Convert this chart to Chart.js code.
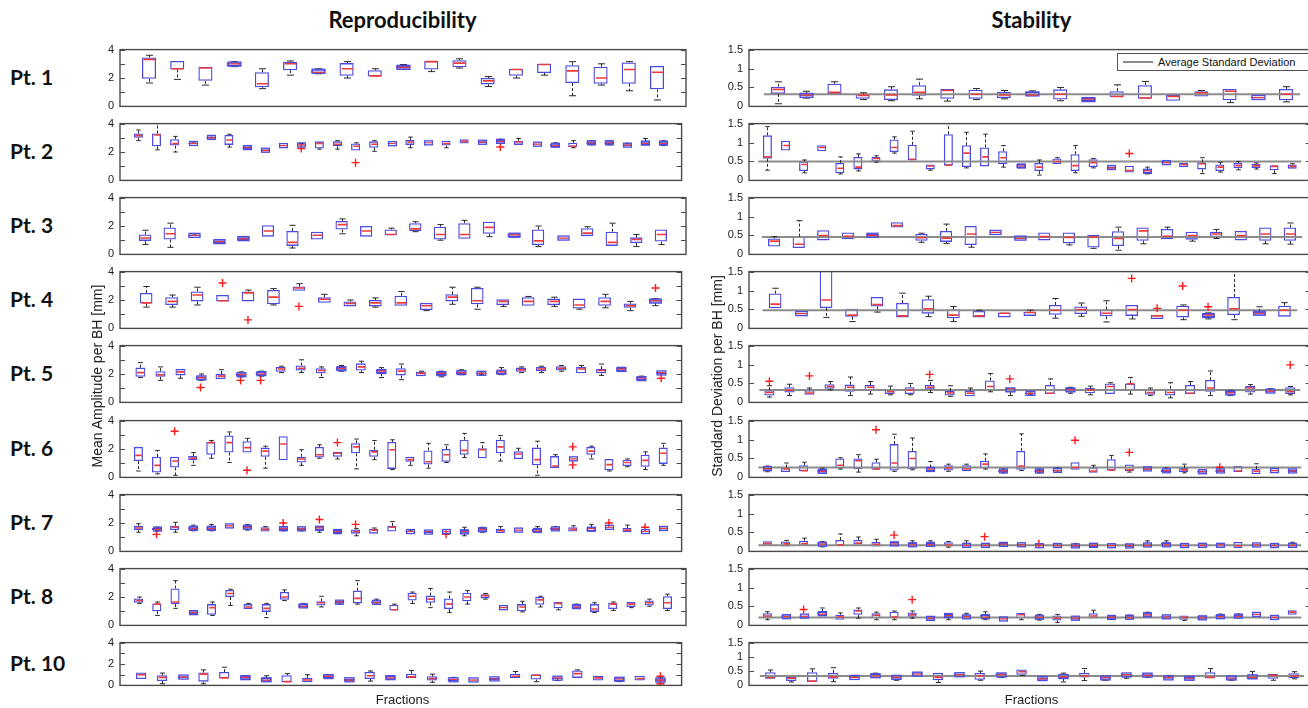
<!DOCTYPE html>
<html><head><meta charset="utf-8">
<script src="https://cdn.jsdelivr.net/npm/chart.js@4.4.0/dist/chart.umd.min.js"></script>
<style>
html,body{margin:0;padding:0;background:#fff;}
body{width:1308px;height:708px;overflow:hidden;position:relative;font-family:"Liberation Sans",Arial,sans-serif;}
canvas{position:absolute;}
.t{position:absolute;white-space:nowrap;color:#111;}
.bold{font-family:Lato,"Open Sans",sans-serif;font-weight:bold;}
</style></head><body>
<script>
// ---------------- DATA ----------------
const patients = ['Pt. 1','Pt. 2','Pt. 3','Pt. 4','Pt. 5','Pt. 6','Pt. 7','Pt. 8','Pt. 10'];
const titles = ['Reproducibility','Stability'];
const yTitles = ['Mean Amplitude per BH [mm]','Standard Deviation per BH [mm]'];
const xTitle = 'Fractions';
const legendText = 'Average Standard Deviation';
const ampTicks = [0,1,2,3,4];
const ampTickLabels = ['0','','2','','4'];
const sdTicks = [0,0.5,1,1.5];
const sdTickLabels = ['0','0.5','1','1.5'];
// each box: [lower whisker, q1, median, q3, upper whisker]
const amp1 = [[1.65,1.95,3.3,3.45,3.6],[1.9,2.6,2.65,3.2,3.2],[1.5,1.8,2.7,2.8,2.8],[2.8,2.85,3.0,3.1,3.15],[1.25,1.35,1.6,2.4,2.65],[2.2,2.55,3.0,3.15,3.2],[2.3,2.35,2.4,2.6,2.65],[2.0,2.15,2.65,3.05,3.15],[2.1,2.1,2.15,2.55,2.65],[2.6,2.65,2.75,2.85,2.95],[2.45,2.6,3.15,3.2,3.2],[2.7,2.75,3.05,3.25,3.35],[1.4,1.55,1.8,2.0,2.1],[2.0,2.15,2.6,2.65,2.65],[2.2,2.35,2.95,3.0,3.0],[0.75,1.65,2.5,2.9,3.15],[1.5,1.6,2.0,2.8,3.0],[1.1,1.6,2.6,3.1,3.15],[0.45,1.2,2.4,2.85,2.85]];
const amp2 = [[2.8,3.0,3.15,3.3,3.55],[2.15,2.4,3.2,3.3,4.0],[2.0,2.45,2.6,2.9,3.1],[2.55,2.55,2.6,2.65,2.7],[2.9,2.95,3.0,3.1,3.15],[2.35,2.5,2.85,3.2,3.25],[2.2,2.22,2.3,2.4,2.4],[2.05,2.05,2.1,2.2,2.2],[2.4,2.42,2.45,2.48,2.5],[2.45,2.45,2.5,2.55,2.6],[2.2,2.25,2.6,2.75,2.75],[2.2,2.4,2.55,2.75,2.8],[2.1,2.1,2.4,2.6,2.65],[2.05,2.3,2.55,2.75,2.8],[2.55,2.55,2.6,2.62,2.65],[2.3,2.5,2.7,2.85,3.05],[2.6,2.62,2.65,2.67,2.7],[2.3,2.45,2.6,2.8,2.8],[2.6,2.6,2.75,2.9,2.9],[2.6,2.62,2.7,2.75,2.75],[2.65,2.65,2.75,2.85,2.9],[2.5,2.5,2.7,2.8,2.95],[2.5,2.52,2.55,2.58,2.6],[2.35,2.35,2.45,2.6,2.65],[2.3,2.35,2.4,2.65,2.8],[2.5,2.55,2.65,2.75,2.8],[2.5,2.55,2.65,2.75,2.8],[2.4,2.42,2.48,2.55,2.6],[2.5,2.5,2.6,2.75,2.95],[2.45,2.5,2.6,2.75,2.8]];
const amp3 = [[0.7,0.95,1.15,1.4,1.7],[0.5,1.05,1.45,1.9,2.2],[1.25,1.28,1.35,1.4,1.45],[0.78,0.8,0.9,1.0,1.05],[1.0,1.02,1.1,1.2,1.25],[1.25,1.25,1.65,2.05,2.05],[0.45,0.6,0.85,1.65,2.05],[1.05,1.05,1.35,1.6,1.6],[1.45,1.75,2.1,2.35,2.5],[1.25,1.25,1.65,2.0,2.0],[1.35,1.35,1.4,1.75,1.85],[1.6,1.65,1.8,2.2,2.3],[1.0,1.05,1.4,1.95,2.1],[1.1,1.1,1.4,2.2,2.4],[1.25,1.45,1.9,2.3,2.3],[1.2,1.22,1.38,1.48,1.5],[0.55,0.65,0.95,1.75,2.0],[1.1,1.12,1.15,1.18,1.2],[1.3,1.3,1.5,1.85,1.95],[0.6,0.6,0.85,1.6,2.2],[0.55,0.8,1.05,1.2,1.4],[0.7,0.9,1.4,1.75,1.75]];
const amp4 = [[1.5,1.75,1.8,2.5,2.95],[1.5,1.65,1.9,2.2,2.35],[1.65,1.9,2.35,2.6,2.9],[1.9,1.9,1.95,2.35,2.35],[1.9,1.9,2.5,2.6,2.7],[1.65,1.7,2.2,2.7,2.8],[2.65,2.65,2.85,2.95,3.15],[1.8,1.8,2.05,2.2,2.4],[1.55,1.55,1.75,1.9,2.0],[1.5,1.55,1.8,2.0,2.15],[1.6,1.6,1.8,2.3,2.6],[1.25,1.3,1.6,1.8,1.8],[1.7,1.9,2.2,2.4,2.9],[1.35,1.7,1.95,2.85,2.9],[1.55,1.65,1.9,2.05,2.05],[1.6,1.6,1.9,2.2,2.25],[1.55,1.65,1.9,2.1,2.2],[1.35,1.4,1.65,2.1,2.1],[1.45,1.6,1.9,2.2,2.4],[1.25,1.45,1.6,1.75,1.9],[1.6,1.8,1.95,2.05,2.1]];
const amp5 = [[1.75,1.8,2.1,2.45,2.8],[1.55,1.8,1.95,2.2,2.5],[1.7,1.9,2.15,2.35,2.35],[1.55,1.6,1.75,1.85,2.0],[1.65,1.65,1.85,2.0,2.3],[1.8,1.85,1.95,2.05,2.15],[1.85,1.9,2.0,2.15,2.2],[2.1,2.15,2.35,2.5,2.55],[2.1,2.25,2.4,2.6,3.0],[1.75,2.05,2.25,2.4,2.5],[2.2,2.25,2.4,2.5,2.6],[2.1,2.25,2.5,2.75,2.9],[1.75,2.05,2.2,2.3,2.45],[1.6,1.9,2.2,2.4,2.7],[1.85,1.85,2.05,2.15,2.2],[1.8,1.9,2.05,2.15,2.2],[1.95,2.0,2.1,2.2,2.3],[1.95,2.0,2.05,2.1,2.15],[1.95,2.0,2.15,2.25,2.45],[2.1,2.15,2.3,2.45,2.5],[2.1,2.2,2.35,2.5,2.55],[2.2,2.25,2.4,2.55,2.6],[2.05,2.05,2.35,2.5,2.6],[1.9,2.05,2.25,2.35,2.7],[2.2,2.2,2.35,2.45,2.45],[1.55,1.55,1.7,1.8,1.85],[2.0,2.0,2.1,2.15,2.15]];
const amp6 = [[0.45,1.15,1.55,2.15,2.15],[0.25,0.35,0.85,1.45,1.9],[0.15,0.7,1.15,1.45,1.45],[0.85,1.2,1.35,1.5,1.75],[1.35,1.6,2.45,2.5,2.6],[1.05,1.75,2.45,2.95,3.2],[1.75,1.75,2.1,2.55,2.75],[0.65,1.45,1.85,2.1,2.2],[1.2,1.2,2.35,2.9,2.9],[0.85,1.05,1.3,1.45,1.95],[1.35,1.4,1.6,2.15,2.3],[1.3,1.45,1.7,1.8,1.8],[0.6,1.7,2.15,2.4,2.7],[1.25,1.45,1.8,1.95,2.6],[0.55,0.6,1.95,2.5,2.65],[0.85,1.1,1.25,1.45,1.45],[0.65,0.9,1.1,1.9,2.4],[1.05,1.1,1.6,2.0,2.3],[1.4,1.6,1.9,2.65,3.1],[1.35,1.35,1.95,2.05,2.45],[1.15,1.7,2.15,2.65,2.95],[1.3,1.3,1.65,1.85,2.05],[0.15,0.85,1.25,2.1,2.55],[0.65,0.65,0.8,1.5,1.6],[1.3,1.3,1.3,1.32,1.32],[1.3,1.6,1.85,2.15,2.2],[0.45,0.5,0.9,1.3,1.3],[0.75,0.8,1.05,1.25,1.3],[0.55,0.75,1.2,1.6,1.8],[0.85,0.95,1.7,2.1,2.4]];
const amp7 = [[1.35,1.5,1.65,1.8,1.95],[1.45,1.5,1.55,1.65,1.7],[1.35,1.5,1.7,1.8,2.05],[1.45,1.5,1.6,1.75,1.85],[1.45,1.5,1.6,1.75,1.9],[1.75,1.77,1.8,1.82,1.85],[1.5,1.6,1.7,1.8,1.9],[1.4,1.4,1.55,1.7,1.75],[1.45,1.5,1.6,1.7,1.75],[1.45,1.5,1.58,1.68,1.7],[1.35,1.5,1.65,1.75,1.75],[1.25,1.3,1.4,1.5,1.5],[1.1,1.25,1.4,1.55,1.6],[1.25,1.25,1.5,1.6,1.65],[1.4,1.4,1.7,1.8,2.1],[1.35,1.35,1.4,1.45,1.5],[1.3,1.3,1.4,1.42,1.45],[1.35,1.37,1.4,1.43,1.45],[1.1,1.25,1.4,1.5,1.7],[1.35,1.4,1.55,1.65,1.7],[1.3,1.3,1.45,1.6,1.75],[1.45,1.47,1.5,1.53,1.55],[1.35,1.35,1.45,1.6,1.75],[1.5,1.5,1.58,1.68,1.75],[1.4,1.4,1.55,1.7,1.8],[1.4,1.42,1.6,1.7,1.9],[1.65,1.67,1.7,1.72,1.75],[1.35,1.35,1.5,1.65,1.85],[1.35,1.37,1.4,1.43,1.45],[1.55,1.55,1.62,1.68,1.7]];
const amp8 = [[1.55,1.6,1.75,1.9,2.0],[0.7,1.0,1.5,1.55,1.65],[1.2,1.5,1.65,2.6,3.15],[0.8,0.8,0.9,1.0,1.05],[0.7,0.75,1.25,1.5,1.65],[1.4,2.0,2.25,2.5,2.55],[1.15,1.15,1.3,1.5,1.55],[0.55,0.95,1.2,1.5,1.55],[1.75,1.8,2.0,2.35,2.5],[1.25,1.25,1.35,1.5,1.55],[1.3,1.4,1.6,1.7,2.05],[1.5,1.55,1.65,1.72,1.75],[1.5,1.55,1.9,2.45,3.15],[1.5,1.55,1.6,1.7,1.85],[1.05,1.05,1.1,1.45,1.5],[1.55,1.75,2.05,2.3,2.35],[1.25,1.6,1.85,2.1,2.6],[0.9,1.15,1.5,1.9,2.35],[1.5,1.7,2.0,2.3,2.45],[1.85,1.9,2.1,2.2,2.25],[1.22,1.23,1.25,1.27,1.28],[0.95,1.0,1.3,1.5,1.7],[1.3,1.45,1.8,2.0,2.05],[1.1,1.2,1.55,1.65,1.65],[1.2,1.2,1.3,1.45,1.5],[0.9,0.95,1.15,1.5,1.6],[1.05,1.15,1.5,1.6,1.65],[1.25,1.3,1.5,1.65,1.65],[1.35,1.4,1.6,1.75,1.85],[1.05,1.15,1.6,2.05,2.2]];
const amp10 = [[0.6,0.6,1.0,1.2,1.2],[0.15,0.4,0.75,0.95,1.15],[0.7,0.7,0.78,0.85,0.85],[0.15,0.35,1.05,1.2,1.45],[0.65,0.65,0.7,1.25,1.7],[0.55,0.55,0.75,0.9,0.9],[0.35,0.35,0.5,0.7,0.9],[0.3,0.3,0.35,0.95,1.1],[0.3,0.3,0.5,0.7,1.0],[0.7,0.7,0.85,0.95,1.0],[0.4,0.4,0.5,0.65,0.65],[0.4,0.6,0.9,1.25,1.35],[0.55,0.55,0.7,0.9,0.9],[0.7,0.7,0.8,1.1,1.4],[0.3,0.45,0.65,0.85,1.05],[0.4,0.4,0.55,0.65,0.75],[0.45,0.47,0.5,0.55,0.58],[0.5,0.5,0.62,0.72,0.75],[0.7,0.7,0.85,1.1,1.3],[0.35,0.55,0.95,1.05,1.05],[0.45,0.6,0.7,0.75,0.75],[0.7,0.7,1.1,1.4,1.45],[0.45,0.45,0.7,0.9,0.9],[0.35,0.4,0.6,0.75,0.75],[0.45,0.45,0.65,0.9,0.9],[0.35,0.35,0.5,0.65,0.7]];
// outliers: [fraction index (1-based), value]
const ampOut1 = [];
const ampOut2 = [[10,2.25],[13,1.25],[21,2.35]];
const ampOut3 = [];
const ampOut4 = [[4,3.2],[5,0.6],[7,1.55],[21,2.85]];
const ampOut5 = [[4,1.05],[6,1.55],[7,1.55],[27,1.7]];
const ampOut6 = [[3,3.25],[7,0.5],[12,2.45],[25,2.15],[25,0.88]];
const ampOut7 = [[2,1.2],[9,2.0],[11,2.25],[13,1.9],[18,1.2],[27,2.0],[29,1.7]];
const ampOut8 = [];
const ampOut10 = [[26,0.85],[26,0.15]];

const sd1 = [[0.07,0.33,0.45,0.52,0.65],[0.22,0.26,0.3,0.32,0.4],[0.33,0.33,0.37,0.6,0.65],[0.18,0.2,0.29,0.33,0.36],[0.15,0.17,0.3,0.45,0.52],[0.2,0.28,0.37,0.56,0.72],[0.14,0.2,0.42,0.46,0.47],[0.18,0.2,0.32,0.44,0.47],[0.2,0.22,0.3,0.38,0.42],[0.28,0.28,0.3,0.38,0.41],[0.15,0.18,0.32,0.45,0.5],[0.13,0.14,0.19,0.22,0.23],[0.25,0.25,0.26,0.4,0.57],[0.2,0.2,0.22,0.56,0.66],[0.15,0.15,0.26,0.3,0.3],[0.25,0.26,0.36,0.4,0.42],[0.1,0.16,0.4,0.46,0.47],[0.21,0.22,0.23,0.25,0.26],[0.12,0.16,0.32,0.46,0.52]];
const sd2 = [[0.27,0.57,0.62,1.19,1.42],[0.78,0.79,0.92,1.05,1.05],[0.2,0.25,0.42,0.5,0.54],[0.77,0.77,0.87,0.93,0.93],[0.17,0.19,0.32,0.46,0.62],[0.25,0.29,0.35,0.62,0.7],[0.48,0.5,0.58,0.62,0.65],[0.72,0.75,0.87,1.08,1.15],[0.54,0.54,0.55,0.94,1.3],[0.27,0.29,0.38,0.42,0.42],[0.39,0.39,0.4,1.22,1.5],[0.33,0.35,0.72,0.93,1.27],[0.37,0.37,0.62,0.87,1.22],[0.35,0.43,0.6,0.77,0.92],[0.33,0.33,0.38,0.43,0.43],[0.14,0.25,0.35,0.46,0.54],[0.43,0.43,0.5,0.58,0.6],[0.2,0.25,0.39,0.69,0.92],[0.33,0.35,0.47,0.56,0.58],[0.3,0.31,0.33,0.37,0.38],[0.21,0.21,0.26,0.39,0.39],[0.17,0.19,0.25,0.29,0.35],[0.44,0.45,0.47,0.49,0.5],[0.35,0.35,0.42,0.46,0.46],[0.18,0.29,0.44,0.48,0.6],[0.22,0.25,0.35,0.42,0.48],[0.28,0.32,0.39,0.46,0.5],[0.3,0.33,0.39,0.44,0.46],[0.18,0.27,0.37,0.4,0.4],[0.3,0.31,0.37,0.42,0.44]];
const sd3 = [[0.2,0.21,0.35,0.42,0.47],[0.16,0.17,0.27,0.47,0.89],[0.37,0.37,0.5,0.64,0.64],[0.4,0.4,0.48,0.58,0.58],[0.47,0.47,0.5,0.54,0.54],[0.7,0.71,0.76,0.85,0.85],[0.32,0.36,0.44,0.54,0.56],[0.29,0.33,0.43,0.62,0.8],[0.19,0.25,0.54,0.75,0.75],[0.56,0.57,0.58,0.59,0.6],[0.4,0.4,0.42,0.46,0.47],[0.37,0.37,0.47,0.58,0.58],[0.25,0.29,0.45,0.58,0.58],[0.16,0.18,0.46,0.52,0.52],[0.11,0.22,0.42,0.61,0.72],[0.28,0.36,0.62,0.71,0.71],[0.4,0.4,0.48,0.67,0.72],[0.35,0.39,0.5,0.6,0.6],[0.42,0.46,0.54,0.6,0.66],[0.37,0.37,0.5,0.62,0.62],[0.28,0.36,0.54,0.71,0.72],[0.27,0.36,0.54,0.71,0.83]];
const sd4 = [[0.52,0.53,0.64,0.92,1.06],[0.37,0.38,0.39,0.4,0.41],[0.29,0.54,0.75,1.55,1.6],[0.18,0.31,0.35,0.52,0.52],[0.43,0.58,0.63,0.83,0.83],[0.29,0.29,0.33,0.67,0.93],[0.31,0.39,0.52,0.77,0.85],[0.18,0.27,0.35,0.5,0.58],[0.28,0.29,0.33,0.46,0.48],[0.29,0.29,0.4,0.42,0.42],[0.33,0.33,0.42,0.44,0.48],[0.27,0.36,0.48,0.62,0.79],[0.32,0.38,0.5,0.58,0.67],[0.17,0.32,0.4,0.5,0.73],[0.25,0.33,0.5,0.62,0.62],[0.25,0.25,0.33,0.36,0.37],[0.23,0.29,0.48,0.6,0.62],[0.25,0.29,0.35,0.39,0.41],[0.23,0.35,0.52,0.83,1.5],[0.35,0.36,0.4,0.44,0.57],[0.3,0.31,0.48,0.6,0.68]];
const sd5 = [[0.14,0.18,0.26,0.32,0.44],[0.18,0.26,0.32,0.4,0.48],[0.2,0.2,0.25,0.32,0.38],[0.33,0.36,0.42,0.48,0.55],[0.18,0.28,0.4,0.47,0.67],[0.22,0.3,0.4,0.46,0.55],[0.2,0.22,0.28,0.34,0.43],[0.2,0.22,0.32,0.4,0.5],[0.26,0.34,0.4,0.46,0.58],[0.16,0.18,0.25,0.3,0.44],[0.15,0.16,0.24,0.3,0.38],[0.28,0.32,0.42,0.58,0.76],[0.18,0.28,0.36,0.38,0.38],[0.2,0.22,0.24,0.26,0.28],[0.22,0.22,0.24,0.46,0.62],[0.24,0.28,0.34,0.38,0.4],[0.2,0.24,0.33,0.38,0.43],[0.22,0.22,0.42,0.5,0.52],[0.22,0.3,0.49,0.5,0.66],[0.18,0.2,0.26,0.34,0.38],[0.12,0.18,0.26,0.36,0.52],[0.22,0.22,0.24,0.46,0.55],[0.18,0.28,0.38,0.59,0.83],[0.18,0.2,0.26,0.3,0.32],[0.22,0.26,0.38,0.43,0.47],[0.25,0.26,0.3,0.34,0.36],[0.2,0.22,0.28,0.4,0.42]];
const sd6 = [[0.15,0.18,0.23,0.28,0.3],[0.13,0.14,0.22,0.26,0.38],[0.15,0.16,0.18,0.32,0.4],[0.11,0.12,0.16,0.2,0.24],[0.22,0.24,0.32,0.5,0.52],[0.14,0.22,0.44,0.5,0.6],[0.2,0.2,0.22,0.4,0.48],[0.16,0.18,0.38,0.88,1.14],[0.2,0.22,0.5,0.7,1.04],[0.16,0.16,0.22,0.26,0.42],[0.16,0.18,0.25,0.32,0.35],[0.15,0.16,0.22,0.32,0.35],[0.22,0.24,0.35,0.44,0.62],[0.12,0.14,0.17,0.2,0.22],[0.18,0.2,0.3,0.7,1.15],[0.12,0.14,0.16,0.2,0.22],[0.14,0.16,0.18,0.21,0.25],[0.2,0.2,0.26,0.4,0.4],[0.11,0.12,0.17,0.26,0.32],[0.17,0.18,0.19,0.48,0.58],[0.14,0.16,0.2,0.34,0.34],[0.2,0.2,0.22,0.25,0.26],[0.13,0.14,0.18,0.21,0.25],[0.12,0.14,0.2,0.25,0.35],[0.11,0.12,0.15,0.18,0.18],[0.13,0.14,0.17,0.2,0.2],[0.14,0.14,0.17,0.3,0.3],[0.07,0.08,0.16,0.22,0.36],[0.16,0.17,0.18,0.19,0.2],[0.14,0.14,0.17,0.2,0.2]];
const sd7 = [[0.14,0.15,0.21,0.27,0.28],[0.12,0.13,0.2,0.26,0.29],[0.14,0.15,0.21,0.28,0.35],[0.12,0.14,0.19,0.24,0.26],[0.15,0.15,0.17,0.3,0.46],[0.18,0.18,0.22,0.3,0.38],[0.12,0.13,0.19,0.25,0.32],[0.14,0.15,0.2,0.25,0.26],[0.12,0.13,0.17,0.22,0.28],[0.14,0.15,0.18,0.22,0.28],[0.11,0.13,0.17,0.24,0.26],[0.12,0.13,0.16,0.19,0.28],[0.13,0.13,0.16,0.19,0.2],[0.14,0.15,0.19,0.22,0.23],[0.13,0.14,0.17,0.21,0.22],[0.13,0.14,0.15,0.16,0.17],[0.12,0.13,0.15,0.18,0.21],[0.1,0.11,0.15,0.18,0.21],[0.1,0.11,0.16,0.21,0.21],[0.12,0.13,0.15,0.17,0.18],[0.1,0.11,0.15,0.18,0.19],[0.12,0.13,0.16,0.21,0.28],[0.12,0.13,0.17,0.22,0.28],[0.12,0.13,0.15,0.18,0.19],[0.12,0.13,0.16,0.19,0.21],[0.12,0.13,0.17,0.19,0.2],[0.09,0.09,0.15,0.25,0.26],[0.15,0.16,0.17,0.18,0.19],[0.12,0.13,0.15,0.18,0.21],[0.12,0.13,0.16,0.19,0.24]];
const sd8 = [[0.15,0.19,0.25,0.32,0.36],[0.19,0.19,0.23,0.27,0.28],[0.22,0.23,0.24,0.26,0.27],[0.25,0.26,0.3,0.36,0.46],[0.14,0.15,0.22,0.28,0.33],[0.19,0.28,0.38,0.42,0.46],[0.15,0.19,0.27,0.32,0.35],[0.15,0.19,0.22,0.36,0.38],[0.19,0.23,0.28,0.34,0.38],[0.15,0.15,0.19,0.22,0.23],[0.15,0.22,0.26,0.3,0.3],[0.17,0.18,0.23,0.27,0.32],[0.15,0.18,0.22,0.28,0.36],[0.15,0.16,0.17,0.18,0.19],[0.15,0.19,0.28,0.33,0.33],[0.14,0.17,0.21,0.26,0.29],[0.08,0.13,0.19,0.26,0.29],[0.14,0.15,0.19,0.23,0.24],[0.17,0.18,0.25,0.32,0.4],[0.16,0.17,0.21,0.25,0.26],[0.17,0.18,0.2,0.25,0.27],[0.22,0.23,0.28,0.33,0.35],[0.18,0.19,0.22,0.26,0.26],[0.13,0.15,0.21,0.26,0.27],[0.15,0.15,0.2,0.25,0.26],[0.17,0.18,0.23,0.28,0.3],[0.2,0.21,0.24,0.28,0.3],[0.27,0.28,0.29,0.3,0.3],[0.19,0.2,0.21,0.22,0.23],[0.27,0.28,0.35,0.4,0.41]];
const sd10 = [[0.23,0.23,0.27,0.46,0.54],[0.12,0.15,0.25,0.3,0.3],[0.12,0.12,0.15,0.46,0.58],[0.13,0.23,0.3,0.44,0.62],[0.25,0.26,0.28,0.3,0.33],[0.28,0.28,0.33,0.4,0.43],[0.18,0.23,0.28,0.33,0.34],[0.33,0.33,0.4,0.46,0.47],[0.1,0.18,0.28,0.44,0.44],[0.33,0.33,0.38,0.42,0.43],[0.18,0.2,0.33,0.44,0.5],[0.28,0.3,0.38,0.43,0.44],[0.35,0.37,0.48,0.56,0.57],[0.2,0.2,0.23,0.28,0.3],[0.12,0.25,0.3,0.37,0.43],[0.17,0.28,0.33,0.44,0.59],[0.18,0.2,0.27,0.32,0.33],[0.25,0.33,0.38,0.4,0.41],[0.28,0.3,0.35,0.42,0.43],[0.23,0.23,0.27,0.3,0.35],[0.2,0.2,0.25,0.3,0.3],[0.25,0.25,0.28,0.46,0.59],[0.18,0.2,0.25,0.32,0.33],[0.23,0.23,0.28,0.37,0.49],[0.18,0.23,0.35,0.4,0.4],[0.23,0.25,0.33,0.43,0.48]];
const sdOut1 = [];
const sdOut2 = [[21,0.71]];
const sdOut3 = [];
const sdOut4 = [[15,1.32],[16,0.53],[17,1.12],[18,0.57]];
const sdOut5 = [[1,0.56],[3,0.7],[9,0.74],[13,0.62],[27,0.99]];
const sdOut6 = [[7,1.26],[18,0.98],[21,0.66],[26,0.27]];
const sdOut7 = [[8,0.43],[13,0.39],[16,0.2]];
const sdOut8 = [[3,0.42],[9,0.68]];
const sdOut10 = [];
const avgSd = [0.32,0.5,0.46,0.48,0.33,0.26,0.16,0.21,0.33];

const ampStats = [amp1,amp2,amp3,amp4,amp5,amp6,amp7,amp8,amp10];
const ampOuts = [ampOut1,ampOut2,ampOut3,ampOut4,ampOut5,ampOut6,ampOut7,ampOut8,ampOut10];
const sdStats = [sd1,sd2,sd3,sd4,sd5,sd6,sd7,sd8,sd10];
const sdOuts = [sdOut1,sdOut2,sdOut3,sdOut4,sdOut5,sdOut6,sdOut7,sdOut8,sdOut10];

// ---------------- LAYOUT / STYLE ----------------
const panelTop = [47,121,195,269,343,418,492,566,640];
const panelH = [62,62,62,62,62,62,62,62,48];
const LEFT_X = 120, RIGHT_X = 749, PW = 565, YW = 34, PAD = 10;
const BOX = '#4b4be0', MED = '#ee3a3a', WHISK = '#2a2a2a', FRAME = '#4a4a4a', OUT = '#ff1a1a', AVG = '#8c8c8c';

function addText(txt, css, cls) {
  const d = document.createElement('div');
  d.className = 't' + (cls ? ' ' + cls : '');
  d.textContent = txt;
  Object.assign(d.style, css);
  document.body.appendChild(d);
  return d;
}

const boxPlugin = {
  id: 'boxExtras',
  afterDatasetsDraw(chart) {
    const o = chart.options.plugins.boxExtras;
    const {ctx, chartArea: a, scales: {x, y}} = chart;
    ctx.save();
    ctx.beginPath(); ctx.rect(a.left, a.top - 1, a.right - a.left, a.bottom - a.top + 2); ctx.clip();
    const hw = x.getPixelForValue(1.25) - x.getPixelForValue(1);
    const cw = hw * 0.5;
    o.stats.forEach((s, i) => {
      const cx = Math.round(x.getPixelForValue(i + 1)) + 0.5;
      const lo = y.getPixelForValue(s[0]), q1 = y.getPixelForValue(s[1]), md = y.getPixelForValue(s[2]),
            q3 = y.getPixelForValue(s[3]), hi = y.getPixelForValue(s[4]);
      ctx.strokeStyle = WHISK; ctx.lineWidth = 1;
      ctx.setLineDash([3, 2]);
      ctx.beginPath();
      if (hi < q3 - 0.5) { ctx.moveTo(cx, q3); ctx.lineTo(cx, hi); }
      if (lo > q1 + 0.5) { ctx.moveTo(cx, q1); ctx.lineTo(cx, lo); }
      ctx.stroke();
      ctx.setLineDash([]);
      ctx.beginPath();
      if (hi < q3 - 0.5) { ctx.moveTo(cx - cw, hi); ctx.lineTo(cx + cw, hi); }
      if (lo > q1 + 0.5) { ctx.moveTo(cx - cw, lo); ctx.lineTo(cx + cw, lo); }
      ctx.stroke();
      // very flat boxes: keep their blue outline visible
      if (q1 - q3 < 4) {
        const mid = (q1 + q3) / 2;
        ctx.strokeStyle = BOX; ctx.lineWidth = 1.3;
        ctx.strokeRect(cx - hw + 0.65, mid - 2, 2 * hw - 1.3, 4);
      }
      ctx.strokeStyle = MED; ctx.lineWidth = (q1 - q3 < 4) ? 1.2 : 1.6;
      ctx.beginPath(); ctx.moveTo(cx - hw + 1.3, md); ctx.lineTo(cx + hw - 1.3, md); ctx.stroke();
    });
    ctx.restore();
  },
  afterDraw(chart) {
    const {ctx, chartArea: a, scales: {y}} = chart;
    ctx.save();
    ctx.strokeStyle = FRAME; ctx.lineWidth = 1.4;
    ctx.strokeRect(a.left, a.top, a.right - a.left, a.bottom - a.top);
    ctx.lineWidth = 1;
    y.ticks.forEach(t => {
      const py = Math.round(y.getPixelForValue(t.value)) + 0.5;
      ctx.beginPath();
      ctx.moveTo(a.left, py); ctx.lineTo(a.left + 5, py);
      ctx.moveTo(a.right - 5, py); ctx.lineTo(a.right, py);
      ctx.stroke();
    });
    ctx.restore();
  }
};

function makePanel(x0, top, h, stats, outs, tickVals, tickLabels, avg) {
  const cv = document.createElement('canvas');
  const w = YW + PW + 2, H = h + 2 * PAD;
  cv.width = w; cv.height = H;
  cv.style.left = (x0 - YW) + 'px'; cv.style.top = (top - PAD) + 'px';
  cv.style.width = w + 'px'; cv.style.height = H + 'px';
  document.body.appendChild(cv);
  const n = stats.length;
  const datasets = [
    {type: 'bar', data: stats.map((s, i) => ({x: i + 1, y: [s[1], s[3]]})), borderColor: BOX,
     backgroundColor: 'rgba(255,255,255,0)', borderWidth: 1.3, borderSkipped: false,
     barPercentage: 0.5, categoryPercentage: 1, grouped: false, order: 2},
    {type: 'scatter', data: outs.map(p => ({x: p[0], y: p[1]})), pointStyle: 'cross', pointRadius: 4,
     borderColor: OUT, backgroundColor: OUT, borderWidth: 1.4, order: 0}
  ];
  if (avg != null) datasets.push({type: 'line', data: [{x: 0.5, y: avg}, {x: n + 0.5, y: avg}],
     borderColor: AVG, borderWidth: 2, pointRadius: 0, order: 1});
  new Chart(cv, {
    type: 'bar',
    data: {datasets},
    options: {
      responsive: false, animation: false, devicePixelRatio: 1,
      layout: {padding: {top: PAD, bottom: PAD, left: 0, right: 1}},
      plugins: {legend: {display: false}, tooltip: {enabled: false}, boxExtras: {stats}},
      scales: {
        x: {type: 'linear', min: 0.5, max: n + 0.5, display: false,
            afterBuildTicks: ax => { ax.ticks = stats.map((s, i) => ({value: i + 1})); }},
        y: {type: 'linear', min: tickVals[0], max: tickVals[tickVals.length - 1],
            afterFit: ax => { ax.width = YW; },
            afterBuildTicks: ax => { ax.ticks = tickVals.map(v => ({value: v})); },
            grid: {display: false, drawTicks: false}, border: {display: false},
            ticks: {autoSkip: false, padding: 6, color: '#222', font: {family: 'Liberation Sans', size: 11},
                    callback: (v) => { const k = tickVals.indexOf(v); return k >= 0 ? tickLabels[k] : ''; }}}
      }
    },
    plugins: [boxPlugin]
  });
}

// titles
addText(titles[0], {left: LEFT_X + 'px', width: PW + 'px', top: '6px', textAlign: 'center', fontSize: '22px'}, 'bold');
addText(titles[1], {left: RIGHT_X + 'px', width: PW + 'px', top: '6px', textAlign: 'center', fontSize: '22px'}, 'bold');

for (let i = 0; i < 9; i++) {
  const t = panelTop[i], h = panelH[i];
  addText(patients[i], {left: '10px', top: (t + h / 2 - 14) + 'px', fontSize: '21px', lineHeight: '26px'}, 'bold');
  makePanel(LEFT_X, t, h, ampStats[i], ampOuts[i], ampTicks, ampTickLabels, null);
  makePanel(RIGHT_X, t, h, sdStats[i], sdOuts[i], sdTicks, sdTickLabels, avgSd[i]);
}

// rotated axis titles
function rotLabel(txt, cx, cy) {
  addText(txt, {left: (cx - 150) + 'px', top: (cy - 9) + 'px', width: '300px', height: '18px', lineHeight: '18px',
    textAlign: 'center', fontSize: '14px', color: '#222', transform: 'rotate(-90deg)', zIndex: 5});
}
rotLabel(yTitles[0], 97, 376);
rotLabel(yTitles[1], 717, 376);
addText(xTitle, {left: LEFT_X + 'px', width: PW + 'px', top: '692px', textAlign: 'center', fontSize: '13px', color: '#222', lineHeight: '16px'});
addText(xTitle, {left: RIGHT_X + 'px', width: PW + 'px', top: '692px', textAlign: 'center', fontSize: '13px', color: '#222', lineHeight: '16px'});

// legend (inside Pt. 1 stability panel)
const lg = document.createElement('div');
Object.assign(lg.style, {position: 'absolute', left: '1117px', top: '53px', width: '200px', height: '16px',
  border: '1px solid #555', background: '#fff', zIndex: 6});
const ln = document.createElement('div');
Object.assign(ln.style, {position: 'absolute', left: '5px', top: '7px', width: '30px', height: '0', borderTop: '2px solid ' + AVG});
lg.appendChild(ln);
const lt = document.createElement('div');
Object.assign(lt.style, {position: 'absolute', left: '40px', top: '1px', fontSize: '11px', lineHeight: '14px', color: '#111', whiteSpace: 'nowrap'});
lt.textContent = legendText;
lg.appendChild(lt);
document.body.appendChild(lg);
</script>
</body></html>
